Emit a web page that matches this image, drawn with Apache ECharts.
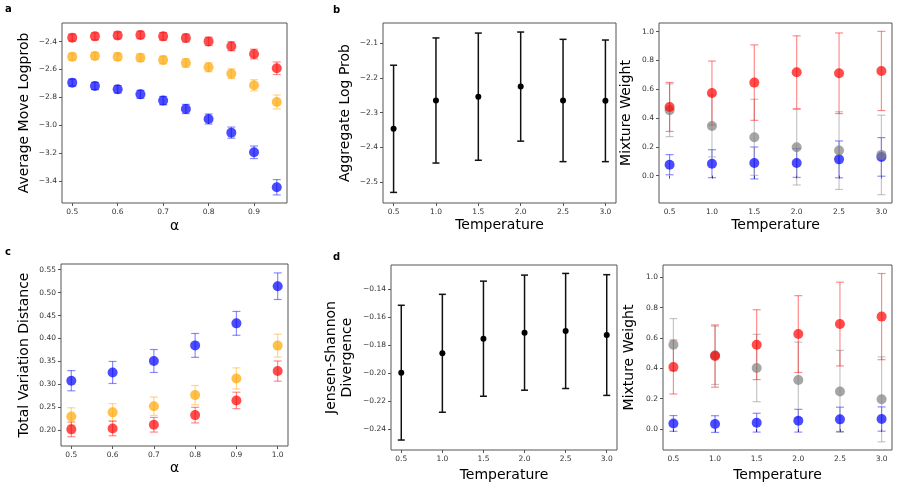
<!DOCTYPE html>
<html>
<head>
<meta charset="utf-8">
<script src="https://cdn.jsdelivr.net/npm/echarts@6/dist/echarts.min.js"></script>
<style>
html, body { margin: 0; padding: 0; background: #fff; }
#main { width: 898px; height: 488px; }
</style>
</head>
<body>
<div id="main"></div>
<script>
// panel a: average move logprob vs alpha
var alphaA = [0.5, 0.55, 0.6, 0.65, 0.7, 0.75, 0.8, 0.85, 0.9, 0.95];
var aRed = [-2.371, -2.362, -2.355, -2.352, -2.362, -2.374, -2.398, -2.433, -2.489, -2.591];
var aRedErr = [0.025, 0.025, 0.025, 0.027, 0.027, 0.028, 0.03, 0.032, 0.035, 0.045];
var aOrange = [-2.508, -2.503, -2.508, -2.515, -2.532, -2.553, -2.584, -2.630, -2.713, -2.833];
var aOrangeErr = [0.025, 0.025, 0.026, 0.027, 0.028, 0.03, 0.032, 0.035, 0.04, 0.05];
var aBlue = [-2.694, -2.718, -2.742, -2.778, -2.823, -2.883, -2.955, -3.053, -3.194, -3.445];
var aBlueErr = [0.025, 0.026, 0.027, 0.029, 0.03, 0.033, 0.036, 0.04, 0.045, 0.055];

// panel b: aggregate log prob vs temperature
var temps = [0.5, 1.0, 1.5, 2.0, 2.5, 3.0];
var bMean = [-2.3465, -2.265, -2.254, -2.225, -2.265, -2.266];
var bErr = [0.183, 0.18, 0.183, 0.157, 0.176, 0.175];

// panel b right: mixture weights
var bwRed = [0.477, 0.574, 0.646, 0.718, 0.711, 0.727];
var bwRedErr = [0.17, 0.222, 0.262, 0.253, 0.28, 0.275];
var bwGray = [0.454, 0.345, 0.266, 0.197, 0.174, 0.144];
var bwGrayErr = [0.183, 0.215, 0.264, 0.262, 0.27, 0.276];
var bwBlue = [0.076, 0.083, 0.088, 0.088, 0.113, 0.13];
var bwBlueErr = [0.07, 0.097, 0.111, 0.1, 0.128, 0.134];

// panel c: total variation distance vs alpha
var alphaC = [0.5, 0.6, 0.7, 0.8, 0.9, 1.0];
var cBlue = [0.308, 0.326, 0.351, 0.385, 0.433, 0.514];
var cBlueErr = [0.022, 0.024, 0.025, 0.026, 0.026, 0.029];
var cOrange = [0.230, 0.239, 0.2525, 0.2766, 0.313, 0.3845];
var cOrangeErr = [0.019, 0.019, 0.02, 0.021, 0.023, 0.025];
var cRed = [0.202, 0.204, 0.212, 0.233, 0.265, 0.329];
var cRedErr = [0.016, 0.016, 0.016, 0.017, 0.018, 0.022];

// panel d: jensen-shannon divergence vs temperature
var dMean = [-0.1996, -0.1858, -0.1754, -0.1711, -0.1699, -0.1728];
var dErr = [0.048, 0.042, 0.041, 0.041, 0.041, 0.043];

// panel d right: mixture weights
var dwRed = [0.409, 0.481, 0.556, 0.626, 0.692, 0.741];
var dwRedErr = [0.178, 0.205, 0.23, 0.253, 0.276, 0.284];
var dwGray = [0.556, 0.486, 0.402, 0.323, 0.248, 0.196];
var dwGrayErr = [0.172, 0.192, 0.222, 0.25, 0.27, 0.28];
var dwBlue = [0.037, 0.033, 0.042, 0.055, 0.064, 0.066];
var dwBlueErr = [0.052, 0.055, 0.062, 0.075, 0.08, 0.08];

// tick labels
var ticksAlphaA = [0.5, 0.6, 0.7, 0.8, 0.9];
var ticksA = [-3.4, -3.2, -3.0, -2.8, -2.6, -2.4];
var ticksTemp = [0.5, 1.0, 1.5, 2.0, 2.5, 3.0];
var ticksB = [-2.5, -2.4, -2.3, -2.2, -2.1];
var ticksW = [0.0, 0.2, 0.4, 0.6, 0.8, 1.0];
var ticksAlphaC = [0.5, 0.6, 0.7, 0.8, 0.9, 1.0];
var ticksC = [0.20, 0.25, 0.30, 0.35, 0.40, 0.45, 0.50, 0.55];
var ticksD = [-0.24, -0.22, -0.20, -0.18, -0.16, -0.14];

var FONT = 'DejaVu Sans';
var RED = '#ff0000', ORANGE = '#ffa500', BLUE = '#0000ff', GRAY = '#808080';

function fmt(d) {
    return function (v) {
        var s = Math.abs(v).toFixed(d);
        return (v < -1e-9 ? '\u2212' : '') + s;
    };
}

function xAxis(i, min, max, ticks, dec, name, gap) {
    return {
        type: 'value', gridIndex: i, min: min, max: max,
        name: name, nameLocation: 'middle', nameGap: gap,
        nameTextStyle: { fontFamily: FONT, fontSize: 14, color: '#000' },
        axisLine: { show: false },
        axisTick: { show: true, inside: false, length: 3, customValues: ticks, lineStyle: { color: '#555' } },
        axisLabel: { customValues: ticks, formatter: fmt(dec), fontFamily: FONT, fontSize: 7.5, color: '#333', margin: 5 },
        splitLine: { show: false }
    };
}

function yAxis(i, min, max, ticks, dec, name, gap) {
    return {
        type: 'value', gridIndex: i, min: min, max: max,
        name: name, nameLocation: 'middle', nameGap: gap, nameRotate: 90,
        nameTextStyle: { fontFamily: FONT, fontSize: 14, color: '#000', lineHeight: 16.5 },
        axisLine: { show: false },
        axisTick: { show: true, inside: false, length: 3, customValues: ticks, lineStyle: { color: '#555' } },
        axisLabel: { customValues: ticks, formatter: fmt(dec), fontFamily: FONT, fontSize: 7.5, color: '#333', margin: 5 },
        splitLine: { show: false }
    };
}

function rows(xs, ys, es) {
    return xs.map(function (x, k) { return [x, ys[k], es[k]]; });
}

function errSeries(i, xs, ys, es, color, width, cap) {
    return {
        type: 'custom', xAxisIndex: i, yAxisIndex: i,
        data: rows(xs, ys, es),
        encode: { x: 0, y: 1 },
        silent: true, z: 2,
        renderItem: function (params, api) {
            var x = api.value(0), y = api.value(1), e = api.value(2);
            var top = api.coord([x, y + e]);
            var bot = api.coord([x, y - e]);
            var st = { stroke: color, lineWidth: width };
            return {
                type: 'group',
                children: [
                    { type: 'line', shape: { x1: top[0], y1: top[1], x2: bot[0], y2: bot[1] }, style: st },
                    { type: 'line', shape: { x1: top[0] - cap, y1: top[1], x2: top[0] + cap, y2: top[1] }, style: st },
                    { type: 'line', shape: { x1: bot[0] - cap, y1: bot[1], x2: bot[0] + cap, y2: bot[1] }, style: st }
                ]
            };
        }
    };
}

function dotSeries(i, xs, ys, color, size, opacity) {
    return {
        type: 'scatter', xAxisIndex: i, yAxisIndex: i,
        data: xs.map(function (x, k) { return [x, ys[k]]; }),
        symbol: 'circle', symbolSize: size, z: 3,
        itemStyle: { color: color, opacity: opacity },
        emphasis: { disabled: true }
    };
}

function colored(i, xs, ys, es, color) {
    var c = echarts.color.modifyAlpha(color, 0.45);
    return [errSeries(i, xs, ys, es, c, 1.2, 4), dotSeries(i, xs, ys, color, 10, 0.7)];
}

function black(i, xs, ys, es) {
    return [errSeries(i, xs, ys, es, '#111', 1.5, 3.5), dotSeries(i, xs, ys, '#000', 6, 1)];
}

var grids = [
    { left: 62, top: 23, width: 225, height: 180 },
    { left: 383, top: 23, width: 233, height: 180 },
    { left: 659, top: 23, width: 233, height: 180 },
    { left: 61, top: 264, width: 227, height: 182 },
    { left: 391, top: 265, width: 226, height: 185 },
    { left: 663, top: 265, width: 229, height: 185 }
].map(function (g) {
    g.show = true; g.borderColor = '#555'; g.borderWidth = 1; g.backgroundColor = '#fff';
    return g;
});

var series = [].concat(
    colored(0, alphaA, aRed, aRedErr, RED),
    colored(0, alphaA, aOrange, aOrangeErr, ORANGE),
    colored(0, alphaA, aBlue, aBlueErr, BLUE),
    black(1, temps, bMean, bErr),
    colored(2, temps, bwBlue, bwBlueErr, BLUE),
    colored(2, temps, bwGray, bwGrayErr, GRAY),
    colored(2, temps, bwRed, bwRedErr, RED),
    colored(3, alphaC, cBlue, cBlueErr, BLUE),
    colored(3, alphaC, cOrange, cOrangeErr, ORANGE),
    colored(3, alphaC, cRed, cRedErr, RED),
    black(4, temps, dMean, dErr),
    colored(5, temps, dwBlue, dwBlueErr, BLUE),
    colored(5, temps, dwGray, dwGrayErr, GRAY),
    colored(5, temps, dwRed, dwRedErr, RED)
);

function letter(t, x, y) {
    return { type: 'text', left: x, top: y, style: { text: t, fontFamily: FONT, fontSize: 10, fontWeight: 'bold', fill: '#000' } };
}

var option = {
    animation: false,
    backgroundColor: '#fff',
    grid: grids,
    xAxis: [
        xAxis(0, 0.4775, 0.9725, ticksAlphaA, 1, '\u03b1', 16),
        xAxis(1, 0.375, 3.125, ticksTemp, 1, 'Temperature', 15),
        xAxis(2, 0.375, 3.125, ticksTemp, 1, 'Temperature', 15),
        xAxis(3, 0.475, 1.025, ticksAlphaC, 1, '\u03b1', 15),
        xAxis(4, 0.375, 3.125, ticksTemp, 1, 'Temperature', 18),
        xAxis(5, 0.375, 3.125, ticksTemp, 1, 'Temperature', 18)
    ],
    yAxis: [
        yAxis(0, -3.558, -2.266, ticksA, 1, 'Average Move Logprob', 29),
        yAxis(1, -2.56, -2.042, ticksB, 1, 'Aggregate Log Prob', 29),
        yAxis(2, -0.19, 1.06, ticksW, 1, 'Mixture Weight', 24),
        yAxis(3, 0.1657, 0.5624, ticksC, 2, 'Total Variation Distance', 28),
        yAxis(4, -0.2547, -0.1229, ticksD, 2, 'Jensen-Shannon\nDivergence', 35),
        yAxis(5, -0.138, 1.081, ticksW, 1, 'Mixture Weight', 25)
    ],
    series: series,
    graphic: [
        letter('a', 5, 4),
        letter('b', 333, 5),
        letter('c', 5, 247),
        letter('d', 333, 252)
    ]
};

var myChart = echarts.init(document.getElementById('main'));
myChart.setOption(option);
</script>
</body>
</html>
